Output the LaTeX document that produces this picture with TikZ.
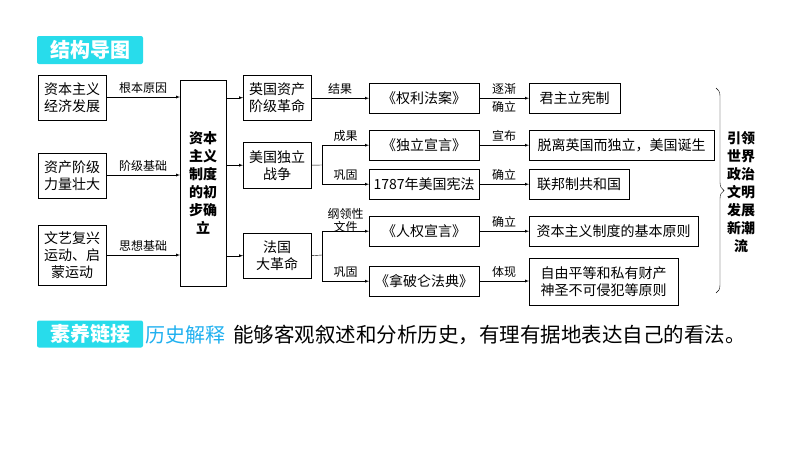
\documentclass[tikz,border=0pt]{standalone}
\usepackage{fontspec}
\setmainfont{Noto Sans CJK SC}
\usetikzlibrary{decorations.pathreplacing}
\definecolor{titlecyan}{RGB}{40,220,235}
\tikzset{
  box/.style={draw, inner sep=2pt, align=center, font=\fontsize{14}{17}\selectfont, anchor=north west},
  lab/.style={font=\fontsize{12}{13}\selectfont, align=center},
  arr/.style={-latex},
}
\begin{document}
\begin{tikzpicture}[x=1pt, y=-1pt]
\useasboundingbox (0,0) rectangle (794,448);
% title
\node[fill=titlecyan, rounded corners=2pt, minimum width=106, minimum height=28, text=white, font=\fontsize{20}{22}\selectfont\bfseries] (title) at (90,50) {结构导图};
% left column
\node[box, minimum width=68, minimum height=45] (econ) at (38,75) {资本主义\\经济发展};
\node[box, minimum width=68, minimum height=45] (class) at (38,153) {资产阶级\\力量壮大};
\node[box, minimum width=68, minimum height=60] (renais) at (38,225) {文艺复兴\\运动、启\\蒙运动};
% centre
\node[box, minimum width=46, minimum height=206, font=\fontsize{14}{18}\selectfont\bfseries] (cap) at (180,80) {资本\\主义\\制度\\的初\\步确\\立};
\draw[arr] (econ.east |- 0,97) -- node[lab, above] {根本原因} (cap.west |- 0,97);
\draw[arr] (class.east |- 0,175) -- node[lab, above] {阶级基础} (cap.west |- 0,175);
\draw[arr] (renais.east |- 0,255) -- node[lab, above] {思想基础} (cap.west |- 0,255);
% revolutions
\node[box, minimum width=68, minimum height=45] (eng) at (243,75) {英国资产\\阶级革命};
\node[box, minimum width=68, minimum height=46] (usa) at (243,142) {美国独立\\战争};
\node[box, minimum width=68, minimum height=45] (fra) at (243,233) {法国\\大革命};
\draw[arr] (cap.east |- eng) -- (eng.west);
\draw[arr] (cap.east |- usa) -- (usa.west);
\draw[arr] (cap.east |- fra) -- (fra.west);
% documents
\node[box, minimum width=110, minimum height=30] (bill) at (369,83) {《权利法案》};
\node[box, minimum width=110, minimum height=30] (decl) at (369,130) {《独立宣言》};
\node[box, minimum width=110, minimum height=30] (const) at (369,169) {1787年美国宪法};
\node[box, minimum width=110, minimum height=30] (rights) at (369,216) {《人权宣言》};
\node[box, minimum width=110, minimum height=30] (code) at (369,266) {《拿破仑法典》};
\draw[arr] (eng.east |- bill) -- node[lab, above] {结果} (bill.west);
\draw (usa.east) -- (322,165) coordinate (ub);
\draw[arr] (ub) |- node[lab, above, pos=0.75] {成果} (decl.west);
\draw[arr] (ub) |- node[lab, above, pos=0.75] {巩固} (const.west);
\draw (fra.east) -- (322,255) coordinate (fb);
\draw[arr] (fb) |- node[lab, above, pos=0.75, yshift=-5] {纲领性\\文件} (rights.west);
\draw[arr] (fb) |- node[lab, above, pos=0.75] {巩固} (code.west);
% results
\node[box, minimum width=91, minimum height=30] (monar) at (529,83) {君主立宪制};
\node[box, minimum width=185, minimum height=30] (indep) at (529,130) {脱离英国而独立，美国诞生};
\node[box, minimum width=100, minimum height=30] (fed) at (529,169) {联邦制共和国};
\node[box, minimum width=169, minimum height=30] (princ) at (529,216) {资本主义制度的基本原则};
\node[box, minimum width=149, minimum height=47] (free) at (529,258) {自由平等和私有财产\\神圣不可侵犯等原则};
\draw[arr] (bill.east) -- node[lab, above] {逐渐} node[lab, below] {确立} (monar.west);
\draw[arr] (decl.east) -- node[lab, above] {宣布} (indep.west);
\draw[arr] (const.east) -- node[lab, above] {确立} (fed.west);
\draw[arr] (rights.east) -- node[lab, above] {确立} (princ.west);
\draw[arr] (code.east |- 0,281) -- node[lab, above] {体现} (free.west |- 0,281);
% brace
\draw[decorate, decoration={brace, amplitude=8pt}] (716,88) -- (716,293) coordinate (br);
\node[font=\fontsize{14}{18}\selectfont\bfseries, align=center] (lead) at (741,192) {引领\\世界\\政治\\文明\\发展\\新潮\\流};
% bottom
\node[fill=titlecyan, rounded corners=2pt, minimum width=106, minimum height=27, text=white, font=\fontsize{20}{22}\selectfont\bfseries] (link) at (90,334) {素养链接};
\node[anchor=west, text=titlecyan!80!blue, font=\fontsize{20}{22}\selectfont, inner sep=0] (hist) at (145,335) {历史解释};
\node[anchor=west, font=\fontsize{20.5}{22}\selectfont, inner sep=0] (abil) at (233,335) {能够客观叙述和分析历史，有理有据地表达自己的看法。};
\end{tikzpicture}
\end{document}
